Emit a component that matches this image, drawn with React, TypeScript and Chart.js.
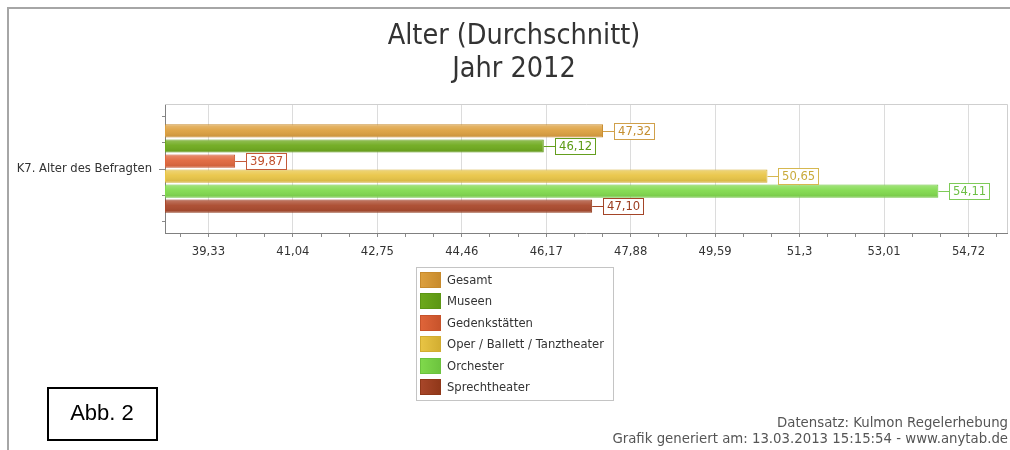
import React, { useEffect, useRef } from 'react';
import { Chart, registerables } from 'chart.js';

Chart.register(...registerables);

// ---------- data ----------
const categories = ['K7. Alter des Befragten'];
const seriesNames = ['Gesamt', 'Museen', 'Gedenkstätten', 'Oper / Ballett / Tanztheater', 'Orchester', 'Sprechtheater'];
const gesamtValues = [47.32];
const museenValues = [46.12];
const gedenkValues = [39.87];
const operValues = [50.65];
const orchesterValues = [54.11];
const sprechValues = [47.1];
const seriesValues = [gesamtValues, museenValues, gedenkValues, operValues, orchesterValues, sprechValues];

const tickValues = [39.33, 41.04, 42.75, 44.46, 46.17, 47.88, 49.59, 51.3, 53.01, 54.72];
const tickLabels = ['39,33', '41,04', '42,75', '44,46', '46,17', '47,88', '49,59', '51,3', '53,01', '54,72'];
const axisMin = 38.45;
const axisMax = 55.5;

const titleLines = ['Alter (Durchschnitt)', 'Jahr 2012'];
const footerLines = ['Datensatz: Kulmon Regelerhebung', 'Grafik generiert am: 13.03.2013 15:15:54 - www.anytab.de'];
const figureLabel = 'Abb. 2';

// ---------- styles ----------
const fillColors = ['#DDA03E', '#6DA91B', '#E0653A', '#E9C545', '#80DA4C', '#A9472A'];
const borderColors = ['#C78A2C', '#5C9614', '#C7532B', '#D2AD31', '#6CC33E', '#8F3719'];
const labelColors = ['#C48E30', '#5C9A14', '#C0502C', '#C9AA3A', '#6CBF44', '#9A3A1C'];
const labelBorders = ['#D0A04A', '#649E1E', '#C45A38', '#D6B850', '#7ECB58', '#A44528'];

const FONT = "'DejaVu Sans', Verdana, sans-serif";
const FS = 11.6;
const TITLE_FONT = "'DejaVu Sans Condensed', 'Liberation Sans Narrow', 'DejaVu Sans', sans-serif";

const minorStep = (tickValues[1] - tickValues[0]) / 3;
const isMajor = (v: number) => tickValues.some((t) => Math.abs(t - v) < 1e-6);
const formatValue = (v: number) => v.toFixed(2).replace('.', ',');

const decorPlugin = {
  id: 'decor',
  afterLayout(chart: any) {
    const t = chart.titleBlock;
    if (t) {
      t.left += 6.5;
      t.right += 6.5;
    }
  },
  beforeDatasetsDraw(chart: any) {
    const { ctx, chartArea: a } = chart;
    ctx.save();
    ctx.strokeStyle = '#cfcfcf';
    ctx.lineWidth = 1;
    ctx.beginPath();
    ctx.moveTo(a.left, Math.round(a.top) + 0.5);
    ctx.lineTo(Math.round(a.right) + 0.5, Math.round(a.top) + 0.5);
    ctx.lineTo(Math.round(a.right) + 0.5, a.bottom);
    ctx.stroke();
    ctx.restore();
  },
  afterDatasetsDraw(chart: any) {
    const { ctx, chartArea: a } = chart;
    ctx.save();
    // y-axis tick marks
    const yScale = chart.scales.y;
    const cy = yScale.getPixelForValue(0);
    const sp = (a.bottom - a.top) * 0.205;
    ctx.strokeStyle = '#8a8a8a';
    ctx.lineWidth = 1;
    for (let k = -2; k <= 2; k++) {
      const yy = Math.round(cy + k * sp) + 0.5;
      const len = k === 0 ? 6 : 3;
      ctx.beginPath();
      ctx.moveTo(a.left - len, yy);
      ctx.lineTo(a.left, yy);
      ctx.stroke();
    }
    // bars shading + value labels
    chart.data.datasets.forEach((ds: any, di: number) => {
      const meta = chart.getDatasetMeta(di);
      meta.data.forEach((el: any, i: number) => {
        const p = el.getProps(['x', 'y', 'base', 'height'], true);
        const left = Math.max(p.base, a.left);
        const top = p.y - p.height / 2;
        const g = ctx.createLinearGradient(0, top, 0, top + p.height);
        g.addColorStop(0, 'rgba(255,255,255,0.28)');
        g.addColorStop(0.45, 'rgba(255,255,255,0.06)');
        g.addColorStop(1, 'rgba(0,0,0,0.10)');
        ctx.fillStyle = g;
        ctx.fillRect(left + 1, top + 1, p.x - left - 2, p.height - 2);

        const text = formatValue(ds.data[i]);
        ctx.font = `${FS}px ${FONT}`;
        const tw = ctx.measureText(text).width;
        const bx = Math.round(p.x) + 11;
        const bw = Math.round(tw) + 7;
        const bh = 16;
        const by = Math.round(p.y - bh / 2);
        ctx.strokeStyle = labelBorders[di];
        ctx.lineWidth = 1;
        ctx.beginPath();
        ctx.moveTo(p.x, Math.round(p.y) + 0.5);
        ctx.lineTo(bx, Math.round(p.y) + 0.5);
        ctx.stroke();
        ctx.fillStyle = '#ffffff';
        ctx.fillRect(bx, by, bw, bh);
        ctx.strokeRect(bx + 0.5, by + 0.5, bw, bh);
        ctx.fillStyle = labelColors[di];
        ctx.textAlign = 'left';
        ctx.textBaseline = 'middle';
        ctx.fillText(text, bx + 4, by + bh / 2 + 1);
      });
    });
    ctx.restore();
  },
  afterDraw(chart: any) {
    const { ctx, width, height, chartArea: a } = chart;
    ctx.save();
    // outer frame (top & left)
    ctx.strokeStyle = '#a6a6a6';
    ctx.lineWidth = 2;
    ctx.beginPath();
    ctx.moveTo(8, height);
    ctx.lineTo(8, 8);
    ctx.lineTo(width, 8);
    ctx.stroke();

    // legend
    ctx.font = `${FS}px ${FONT}`;
    const maxW = Math.max(...chart.data.datasets.map((d: any) => ctx.measureText(d.label).width));
    const lx = 416;
    const ly = Math.round(a.bottom) + 34;
    const rowH = 21.4;
    const sw = 21;
    const sh = 16;
    const boxW = Math.round(4 + sw + 6 + maxW + 9);
    const boxH = Math.round(10 + rowH * chart.data.datasets.length - (rowH - sh) + 0.5);
    ctx.fillStyle = '#ffffff';
    ctx.fillRect(lx, ly, boxW, boxH);
    ctx.strokeStyle = '#c4c4c4';
    ctx.lineWidth = 1;
    ctx.strokeRect(lx + 0.5, ly + 0.5, boxW, boxH);
    chart.data.datasets.forEach((d: any, di: number) => {
      const sy = Math.round(ly + 5 + di * rowH);
      const sx = lx + 4;
      const g = ctx.createLinearGradient(sx, 0, sx + sw, 0);
      g.addColorStop(0, fillColors[di]);
      g.addColorStop(1, borderColors[di]);
      ctx.fillStyle = g;
      ctx.fillRect(sx, sy, sw, sh);
      ctx.strokeStyle = borderColors[di];
      ctx.strokeRect(sx + 0.5, sy + 0.5, sw - 1, sh - 1);
      ctx.fillStyle = '#333333';
      ctx.textAlign = 'left';
      ctx.textBaseline = 'middle';
      ctx.fillText(d.label, sx + sw + 6, sy + sh / 2 + 0.5);
    });

    // footer
    ctx.fillStyle = '#555555';
    ctx.font = `13.3px ${FONT}`;
    ctx.textAlign = 'right';
    ctx.textBaseline = 'middle';
    ctx.fillText(footerLines[0], width - 2, 424);
    ctx.fillText(footerLines[1], width - 2, 440);

    // figure label box
    ctx.strokeStyle = '#000000';
    ctx.lineWidth = 2;
    ctx.strokeRect(48, 388, 109, 52);
    ctx.fillStyle = '#000000';
    ctx.font = `22px 'Liberation Sans', Arial, sans-serif`;
    ctx.textAlign = 'center';
    ctx.textBaseline = 'middle';
    ctx.fillText(figureLabel, 102, 414);
    ctx.restore();
  },
};

export default function App() {
  const canvasRef = useRef<HTMLCanvasElement | null>(null);

  useEffect(() => {
    const canvas = canvasRef.current;
    if (!canvas) return;

    const allTicks: number[] = [];
    for (let v = tickValues[0]; v >= axisMin - 1e-9; v -= minorStep) allTicks.unshift(+v.toFixed(4));
    for (let v = tickValues[0] + minorStep; v <= axisMax + 1e-9; v += minorStep) allTicks.push(+v.toFixed(4));

    const chart = new Chart(canvas, {
      type: 'bar',
      data: {
        labels: categories,
        datasets: seriesNames.map((name, i) => ({
          label: name,
          data: seriesValues[i],
          backgroundColor: fillColors[i],
          borderColor: borderColors[i],
          borderWidth: 1,
          borderSkipped: false,
          categoryPercentage: 0.7,
          barPercentage: 0.88,
        })),
      },
      options: {
        indexAxis: 'y',
        animation: false,
        responsive: false,
        layout: { padding: { left: 8, right: 3, top: 8, bottom: 189 } },
        scales: {
          x: {
            type: 'linear',
            min: axisMin,
            max: axisMax,
            bounds: 'data',
            afterBuildTicks: (scale: any) => {
              scale.ticks = allTicks.map((v) => ({ value: v }));
            },
            afterFit: (scale: any) => {
              scale.height = 28;
            },
            ticks: {
              autoSkip: false,
              maxRotation: 0,
              padding: 8,
              color: '#333333',
              font: { family: FONT, size: FS },
              callback: (value: any) => {
                const idx = tickValues.findIndex((t) => Math.abs(t - Number(value)) < 1e-6);
                return idx >= 0 ? tickLabels[idx] : '';
              },
            },
            grid: {
              color: (c: any) => (c.tick && isMajor(c.tick.value) ? '#dcdcdc' : 'rgba(0,0,0,0)'),
              tickColor: '#8a8a8a',
              tickLength: 4,
              lineWidth: 1,
            },
            border: { color: '#808080', width: 1 },
          },
          y: {
            type: 'category',
            afterFit: (scale: any) => {
              scale.width = 157;
            },
            ticks: {
              padding: 13,
              color: '#333333',
              font: { family: FONT, size: FS },
            },
            grid: { display: false, drawTicks: false },
            border: { color: '#808080', width: 1 },
          },
        },
        plugins: {
          legend: { display: false },
          tooltip: { enabled: false },
          title: {
            display: true,
            text: titleLines,
            color: '#333333',
            font: { family: TITLE_FONT, size: 28.5, weight: 'normal', lineHeight: 1.16 },
            padding: { top: 12.5, bottom: 17.5 },
          },
        },
      },
      plugins: [decorPlugin],
    } as any);

    return () => chart.destroy();
  }, []);

  return (
    <div style={{ position: 'fixed', left: 0, top: 0, width: 1010, height: 450, background: '#ffffff' }}>
      <canvas ref={canvasRef} width={1010} height={450} />
    </div>
  );
}
